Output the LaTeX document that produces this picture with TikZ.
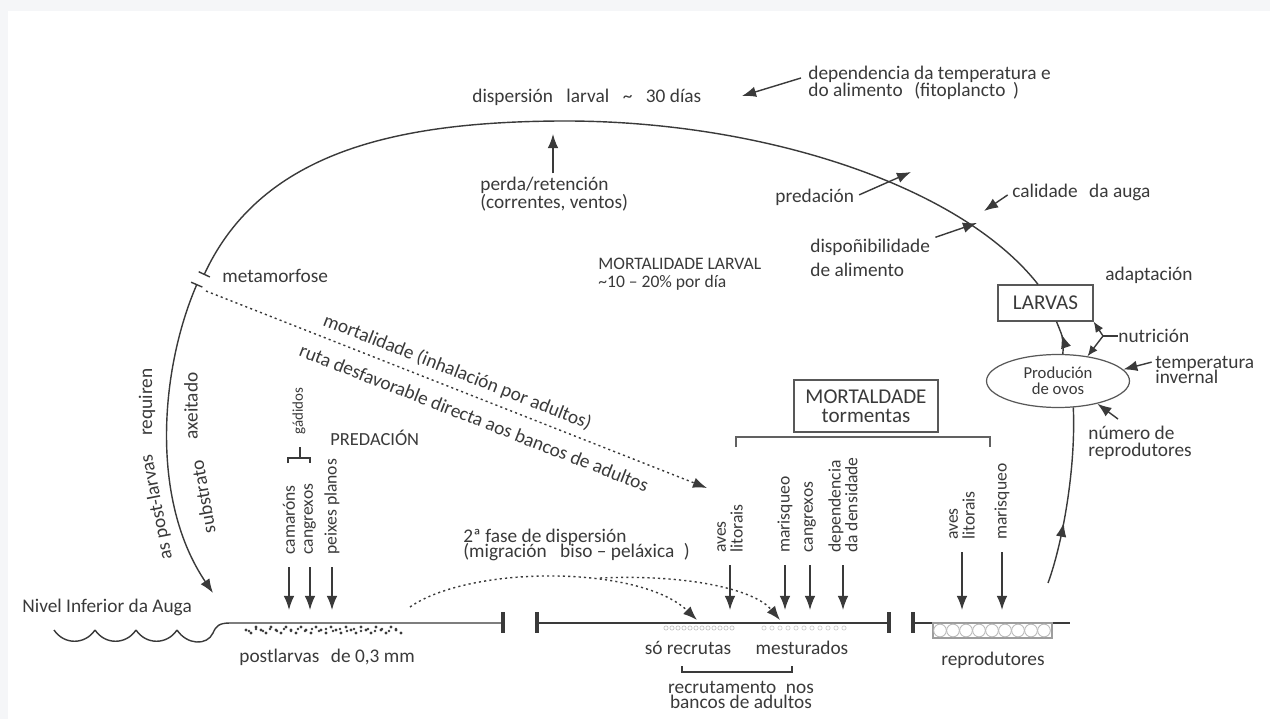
\documentclass[tikz,border=0pt]{standalone}
\usepackage{fontspec}
\setmainfont{Carlito}
\usepackage{tikz}
\usetikzlibrary{positioning,arrows.meta,shapes.geometric,decorations.markings}
\definecolor{inkgray}{HTML}{3A3A3A}
\definecolor{pagegray}{HTML}{F5F6F8}
\lineskiplimit=-20pt

\begin{document}
\begin{tikzpicture}[x=0.02cm,y=-0.02cm,color=inkgray,
conn/.style={draw=inkgray,line width=0.8pt},
tipped/.style={conn,-{Latex[length=8pt,width=6pt]}},
dotline/.style={conn,dash pattern=on 1.2pt off 1.8pt,-{Latex[length=8pt,width=6pt]}},
lbl/.style={inner sep=0pt,align=left,font=\fontsize{11}{10}\selectfont},
vlbl/.style={lbl,rotate=90,anchor=west,font=\fontsize{10}{9.5}\selectfont},
boxed/.style={draw=inkgray!85,line width=0.7pt,align=center,inner sep=0pt},
gtick/.style={draw=inkgray,line width=1.8pt},
midtip/.style={conn,postaction={decorate},decoration={markings,
  mark=at position #1 with {\arrow{Latex[length=8pt,width=6pt]}}}}
]
\fill[pagegray] (0,0) rectangle (1270,719);
\fill[white] (8,11) rectangle (1270,719);

% larval dispersion
\node[lbl,anchor=west] (disp) at (472,97) {dispersión\hspace{0.7em}larval\hspace{0.7em}\textasciitilde\hspace{0.7em}30 días};
\node[lbl,anchor=west] (depend) at (808,83) {dependencia da temperatura e\\do alimento\hspace{0.6em}(fitoplancto\hspace{0.4em})};
\coordinate (tipDep) at (742,96);
\draw[tipped] ([shift={(-7,-5)}]depend.west) -- (tipDep);

\node[boxed,minimum width=1.9cm,minimum height=0.72cm,font=\fontsize{12}{12}\selectfont] (larvas) at (1045.5,303) {LARVAS};
\coordinate (metaTop) at (204,275);
\coordinate (metaBot) at (197,284);
\draw[conn,{Bar[width=7pt]}-] (metaTop) .. controls (262,150) and (400,122) .. (560,121)
  .. controls (760,120) and (960,185) .. ([xshift=-0.15cm]larvas.north);

\node[lbl,anchor=west] (perda) at (480,194) {perda/retención\\(correntes, ventos)};
\coordinate (tipPerda) at (553,134);
\draw[tipped,shorten <=2pt] (perda.north -| tipPerda) -- (tipPerda);

\node[lbl,anchor=west] (preda) at (775,197) {predación};
\coordinate (tipPred) at (911,172);
\draw[tipped,shorten <=3pt] (preda.east) -- (tipPred);
\node[lbl,anchor=west] (calid) at (1012,192) {calidade\hspace{0.6em}da auga};
\coordinate (tipCal) at (984,211);
\draw[tipped,shorten <=3pt] (calid.west) -- (tipCal);
\node[lbl,anchor=west,font=\fontsize{11}{13.5}\selectfont] (dispo) at (810,258) {dispoñibilidade\\de alimento};
\coordinate (tipDisp) at (977,223);
\draw[tipped,shorten <=3pt] (dispo.north east) -- (tipDisp);
\node[lbl,anchor=west,font=\fontsize{10}{10}\selectfont] (mortl) at (598,274) {MORTALIDADE LARVAL\\\textasciitilde 10 – 20\% por día};
\node[lbl,anchor=west] (adapt) at (1105,275) {adaptación};
\node[lbl,anchor=west] (metam) at (222,276) {metamorfose};

% egg production
\node[boxed,ellipse,minimum width=2.86cm,minimum height=1.06cm,font=\fontsize{9.5}{9}\selectfont] (ovos) at (1058,381) {Produción\\de ovos};
\draw[midtip=0.6] (ovos.80) .. controls (1064,340) .. ([shift={(11,0)}]larvas.south);
\coordinate (nutSrc) at (1103,336);
\node[lbl,right=0.3cm of nutSrc] (nutri) {nutrición};
\draw[conn] (nutSrc) -- (nutri.west);
\draw[conn,-{Latex[length=6pt,width=5pt]}] (nutSrc) -- (larvas.south east);
\draw[conn,-{Latex[length=6pt,width=5pt]}] (nutSrc) -- (ovos.40);
\node[lbl,anchor=west,font=\fontsize{11}{8.5}\selectfont] (temper) at (1155,370) {temperatura\\invernal};
\draw[tipped,shorten <=2pt] (temper.170) -- (ovos.10);
\node[lbl,anchor=west,font=\fontsize{11}{9.5}\selectfont] (numrep) at (1088,443) {número de\\reprodutores};
\draw[tipped] ([shift={(30,-7)}]numrep.north west) -- (ovos.330);
\coordinate (reproUp) at (1048,583);
\draw[midtip=0.35] (reproUp) .. controls (1062,545) and (1076,470) .. (ovos.300);

% settlement
\coordinate (settle) at (213,593);
\draw[conn,{Bar[width=7pt]}-{Latex[length=8pt,width=6pt]}] (metaBot) .. controls (160,370) and (150,500) .. (settle);
\node[lbl,rotate=90] (requir) at (147,402) {requiren};
\node[lbl,rotate=101] (aspost) at (157,507) {as post-larvas};
\node[lbl,rotate=90] (axeit) at (191,406) {axeitado};
\node[lbl,rotate=100] (substr) at (203,497) {substrato};

\coordinate (metaDot) at (206,291);
\coordinate (inhalTip) at (707,488);
\draw[dotline] (metaDot) -- node[lbl,sloped,above=4pt,pos=0.49] (inhal) {mortalidade (inhalación por adultos)}
  node[lbl,sloped,below=7pt,pos=0.55] (ruta) {ruta desfavorable directa aos bancos de adultos} (inhalTip);

% predation on postlarvae
\coordinate (ground) at (0,610);
\node[lbl,anchor=west,font=\fontsize{10.5}{10}\selectfont] (predac) at (330,438) {PREDACIÓN};
\node[vlbl,font=\fontsize{8.5}{8}\selectfont] (gadid) at (299,435) {gádidos};
\draw[conn,line width=0.6pt] (300,447) -- (300,458) (288,463) |- (310,458) -- (310,463);
\node[vlbl] (camar) at (289,555) {camaróns};
\node[vlbl] (cangrA) at (310,555) {cangrexos};
\node[vlbl] (peix) at (332,555) {peixes planos};
\foreach \n in {camar,cangrA,peix}
  \draw[tipped,shorten <=7pt] (\n.west) -- (\n.west |- ground);

% mortality on the banks
\node[boxed,minimum width=2.88cm,minimum height=1.04cm,font=\fontsize{12}{11}\selectfont] (mortbox) at (866,406) {MORTALDADE\\tormentas};
\draw[conn,draw=inkgray!80,line width=0.7pt] (736,447) |- (990,437) -- (990,447);
\node[vlbl] (avesA) at (730,553) {aves\\litorais};
\node[vlbl] (marisA) at (785,553) {marisqueo};
\node[vlbl] (cangrB) at (810,553) {cangrexos};
\node[vlbl] (dens) at (843,553) {dependencia\\da densidade};
\node[vlbl] (avesB) at (962,540) {aves\\litorais};
\node[vlbl] (marisB) at (1002,540) {marisqueo};
\foreach \n in {avesA,marisA,cangrB,dens,avesB,marisB}
  \draw[tipped,shorten <=7pt] (\n.west) -- (\n.west |- ground);

% bottom
\foreach \x in {54,95,136} \draw[conn] (\x,630) .. controls (\x+10,645) and (\x+31,645) .. (\x+41,630);
\draw[conn] (177,630) .. controls (187,645) and (207,646) .. (213,633) .. controls (216,626) and (219,623) .. (230,623) -- (503,623);
\draw[conn] (537,623) -- (889,623);
\draw[conn] (913,623) -- (1070,623);
\foreach \x in {503,537,889,913} \draw[gtick] (\x,612) -- (\x,633);
\foreach \x [count=\i] in {246,251,...,404} \fill (\x,{627+3*mod(\i,3)}) circle (0.9pt);
\foreach \x [count=\i] in {249,256,...,402} \fill (\x,{629+2*mod(\i,2)}) circle (0.8pt);
\draw[inkgray!50,line width=0.6pt] (933,623) rectangle (1052,638);
\foreach \x in {940,953,...,1045} \draw[inkgray!35,line width=0.5pt] (\x,630.5) circle (3.6pt);
\foreach \x in {666,672,...,734} \draw[inkgray!30,line width=0.4pt] (\x,628) circle (1.2pt);
\foreach \x in {764,772,...,846} \draw[inkgray!25,line width=0.4pt] (\x,628) circle (1.2pt);

\node[lbl,anchor=west] (nivel) at (22,607) {Nivel Inferior da Auga};
\node[lbl,anchor=west] (postl) at (239,657) {postlarvas\hspace{0.6em}de 0,3 mm};
\node[lbl] (recr) at (688,648) {só recrutas};
\node[lbl] (mest) at (802,648) {mesturados};
\node[lbl,align=center,font=\fontsize{11}{8.5}\selectfont] (recrut) at (741,695) {recrutamento\hspace{0.5em}nos\\bancos de adultos};
\draw[conn,line width=0.7pt] (682,666) |- (792,672) -- (792,666);
\node[lbl] (repro) at (993,660) {reprodutores};
\node[lbl,anchor=west,font=\fontsize{11}{9}\selectfont] (fase) at (463,545) {2ª fase de dispersión\\(migración\hspace{0.7em}biso – peláxica\hspace{0.5em})};

\coordinate (postEnd) at (410,607);
\coordinate (split) at (600,578);
\coordinate (recTip) at (697,620);
\coordinate (mesTip) at (780,620);
\draw[dotline] (postEnd) .. controls (470,565) and (640,565) .. (recTip);
\draw[dotline] (split) .. controls (690,574) and (755,590) .. (mesTip);
\end{tikzpicture}
\end{document}
